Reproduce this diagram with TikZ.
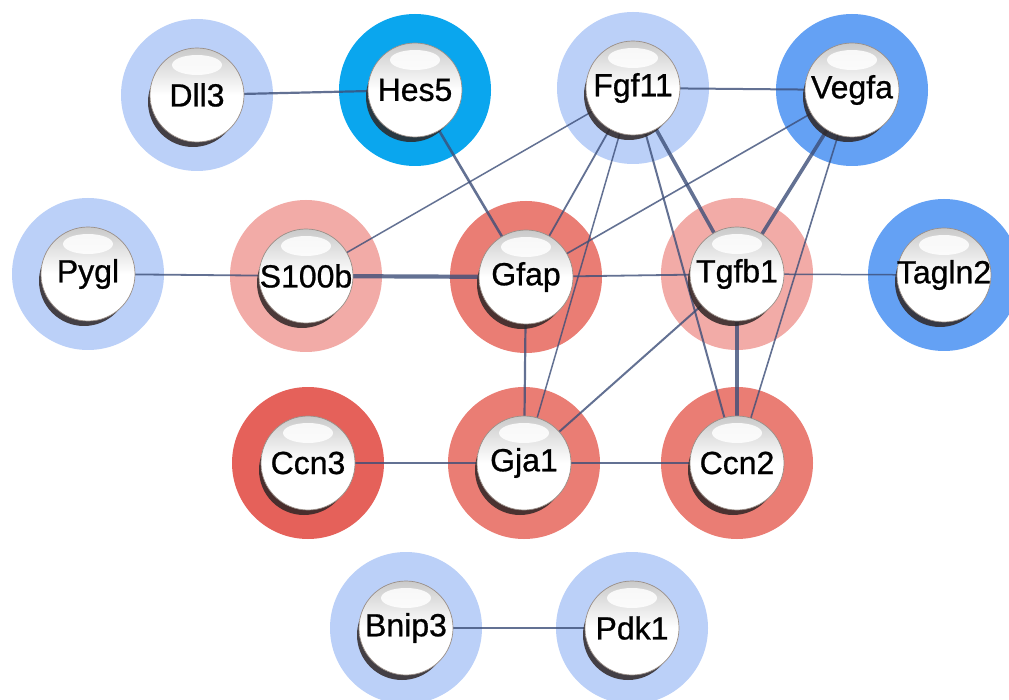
\documentclass[tikz,border=0pt]{standalone}
\usepackage{fontspec}
\setmainfont{Liberation Sans}
\newfontfamily\genefont[FakeBold=0.8]{Liberation Sans}
\definecolor{ltblue}{HTML}{BBD0F8}
\definecolor{hesblue}{HTML}{0AA6EE}
\definecolor{medblue}{HTML}{64A1F4}
\definecolor{ltred}{HTML}{F2ABA7}
\definecolor{medred}{HTML}{EA7D74}
\definecolor{strred}{HTML}{E5615A}
\definecolor{edgecol}{HTML}{3C4E78}
\definecolor{ballrim}{HTML}{9A8F88}
\definecolor{shadowcol}{HTML}{2E2626}
\newcommand\gene[1]{\makebox[0pt]{#1}}
\begin{document}
\begin{tikzpicture}[x=1pt,y=-1pt,
  ring/.style={circle, minimum size=152pt, inner sep=0pt, draw=none, fill=#1},
  ball/.style={circle, minimum size=94pt, inner sep=0pt, draw=ballrim, line width=0.7pt,
    top color=gray!42, bottom color=white, middle color=white,
    font=\genefont\fontsize{32}{36}\selectfont, text=black,
    path picture={\fill[white,opacity=.85] (path picture bounding box.center) ++(0,-30) ellipse (25 and 10);}},
  edge/.style={draw=edgecol, opacity=.8, line width=#1},
  edge/.default=1.6pt,
  shadowc/.style={fill=shadowcol, opacity=.85}]
\useasboundingbox (0,0) rectangle (1009,700);
\fill[white] (0,0) rectangle (1009,700);
% rings
\node[ring=ltblue]  (dll3)   at (197,95)  {};
\node[ring=hesblue] (hes5)   at (415,90)  {};
\node[ring=ltblue]  (fgf11)  at (633,88)  {};
\node[ring=medblue] (vegfa)  at (852,90)  {};
\node[ring=ltblue]  (pygl)   at (88,274)  {};
\node[ring=ltred]   (s100b)  at (306,276) {};
\node[ring=medred]  (gfap)   at (526,277) {};
\node[ring=ltred]   (tgfb1)  at (737,274) {};
\node[ring=medblue] (tagln2) at (944,275) {};
\node[ring=strred]  (ccn3)   at (308,463) {};
\node[ring=medred]  (gja1)   at (524,463) {};
\node[ring=medred]  (ccn2)   at (737,463) {};
\node[ring=ltblue]  (bnip3)  at (406,628) {};
\node[ring=ltblue]  (pdk1)   at (632,628) {};
% edges
\draw[edge=2.2pt] (dll3.center) -- (hes5.center);
\draw[edge=2.6pt] (hes5.center) -- (gfap.center);
\draw[edge=2pt]   (fgf11.center) -- (vegfa.center);
\draw[edge=1.5pt] (fgf11.center) -- (s100b.center);
\draw[edge=1.8pt] (fgf11.center) -- (gfap.center);
\draw[edge=1.5pt] (fgf11.center) -- (gja1.center);
\draw[edge=3.6pt] (fgf11.center) -- (tgfb1.center);
\draw[edge=2pt]   (fgf11.center) -- (ccn2.center);
\draw[edge=1.6pt] (vegfa.center) -- (gfap.center);
\draw[edge=3.6pt] (vegfa.center) -- (tgfb1.center);
\draw[edge=1.6pt] (vegfa.center) -- (ccn2.center);
\draw[edge=1.8pt] (pygl.center) -- (s100b.center);
\draw[edge=4.2pt] (s100b.center) -- (gfap.center);
\draw[edge=1.8pt] (gfap.center) -- (tgfb1.center);
\draw[edge=1.5pt] (tgfb1.center) -- (tagln2.center);
\draw[edge=2.2pt] (gfap.center) -- (gja1.center);
\draw[edge=2pt]   (tgfb1.center) -- (gja1.center);
\draw[edge=3.6pt] (tgfb1.center) -- (ccn2.center);
\draw[edge=1.5pt] (ccn3.center) -- (gja1.center);
\draw[edge=1.8pt] (gja1.center) -- (ccn2.center);
\draw[edge=1.8pt] (bnip3.center) -- (pdk1.center);
% shadows
\foreach \n in {dll3,hes5,fgf11,vegfa,pygl,s100b,gfap,tgfb1,tagln2,ccn3,gja1,ccn2,bnip3,pdk1}
  \fill[shadowc] (\n.center) ++(-4,7) circle (45);
% balls
\node[ball] (dll3b)   at (dll3)   {\gene{Dll3}};
\node[ball] (hes5b)   at (hes5)   {\gene{Hes5}};
\node[ball] (fgf11b)  at (fgf11)  {\gene{Fgf11}};
\node[ball] (vegfab)  at (vegfa)  {\gene{Vegfa}};
\node[ball] (pyglb)   at (pygl)   {\gene{Pygl}};
\node[ball] (s100bb)  at (s100b)  {\gene{S100b}};
\node[ball] (gfapb)   at (gfap)   {\gene{Gfap}};
\node[ball] (tgfb1b)  at (tgfb1)  {\gene{Tgfb1}};
\node[ball] (tagln2b) at (tagln2) {\gene{Tagln2}};
\node[ball] (ccn3b)   at (ccn3)   {\gene{Ccn3}};
\node[ball] (gja1b)   at (gja1)   {\gene{Gja1}};
\node[ball] (ccn2b)   at (ccn2)   {\gene{Ccn2}};
\node[ball] (bnip3b)  at (bnip3)  {\gene{Bnip3}};
\node[ball] (pdk1b)   at (pdk1)   {\gene{Pdk1}};
\end{tikzpicture}
\end{document}
